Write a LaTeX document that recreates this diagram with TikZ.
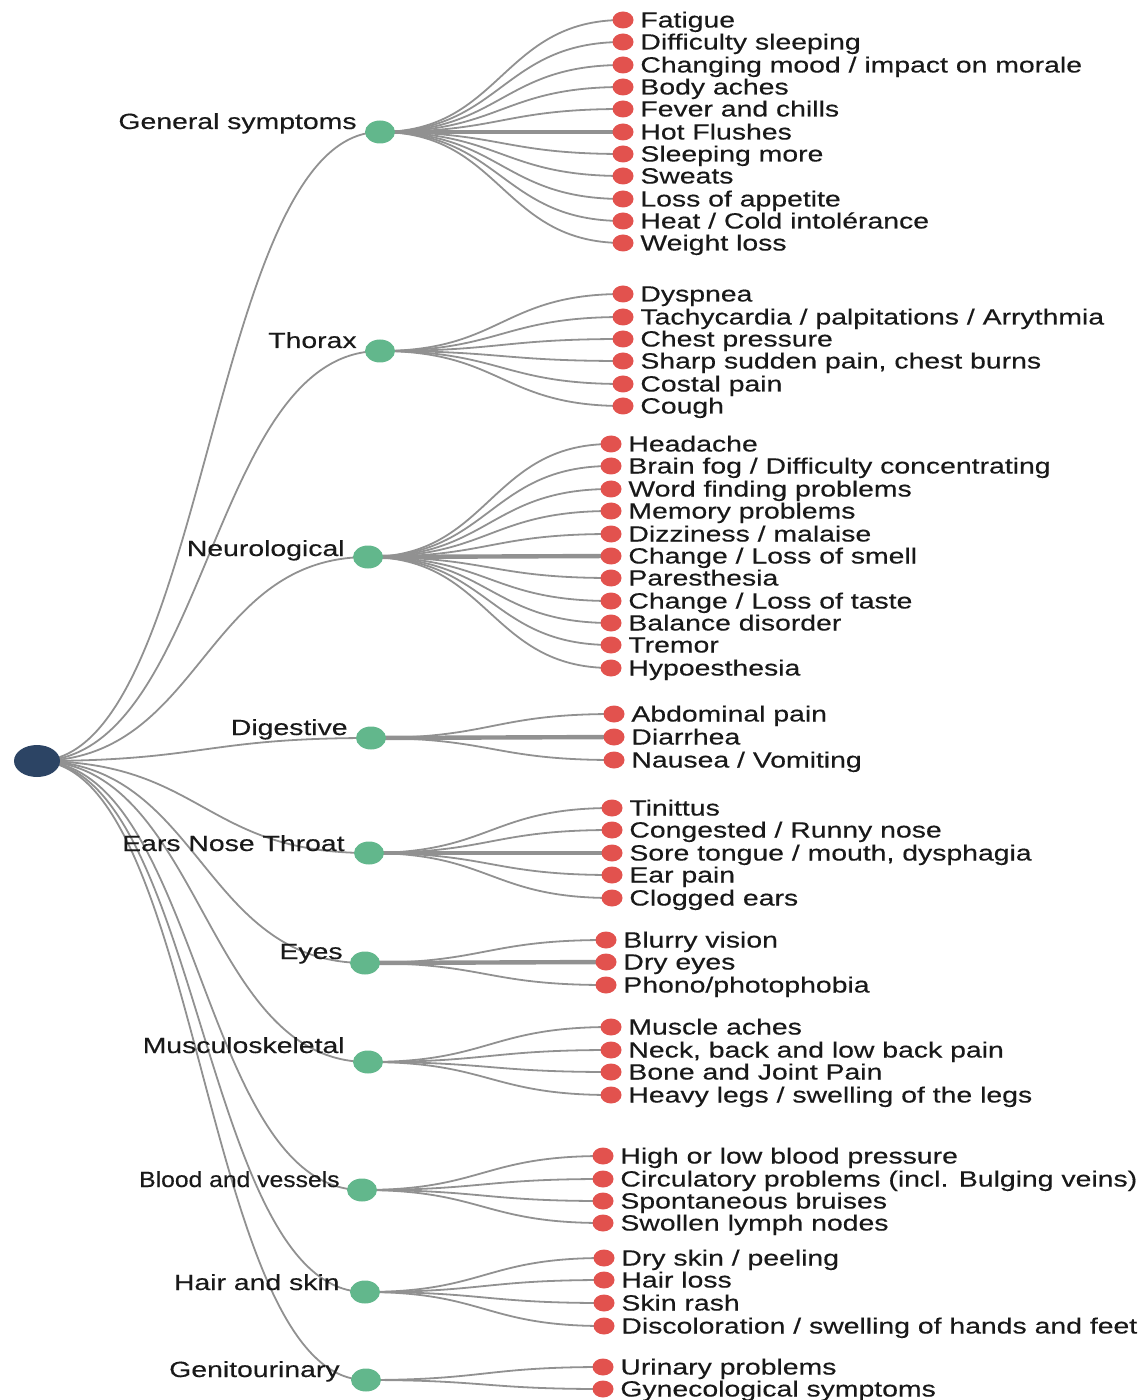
\documentclass[tikz,border=0pt]{standalone}
\usepackage{fontspec}
\usepackage{graphicx}
\setmainfont[FakeStretch=1.29,FakeBold=0.35]{Liberation Sans}
\usetikzlibrary{calc,backgrounds,shapes.geometric}
\definecolor{edgegray}{RGB}{145,145,145}
\definecolor{leafred}{RGB}{226,82,78}
\definecolor{catgreen}{RGB}{98,183,140}
\definecolor{rootnavy}{RGB}{44,68,100}
\definecolor{txt}{RGB}{25,25,25}
\tikzset{
  rootdot/.style={ellipse, fill=rootnavy, minimum width=23pt, minimum height=16pt, inner sep=0pt},
  catdot/.style={ellipse, fill=catgreen, minimum width=15pt, minimum height=11.5pt, inner sep=0pt},
  leafdot/.style={ellipse, fill=leafred, minimum width=10.5pt, minimum height=8.5pt, inner sep=0pt},
  leaftext/.style={anchor=base west, inner sep=0pt, text=txt, font=\fontsize{11}{13}\selectfont},
  cattext/.style={anchor=base east, inner sep=0pt, text=txt, font=\fontsize{11}{13}\selectfont},
  edge/.style={draw=edgegray, line width=0.9pt},
}
\newcommand\lnk[3]{%
  \begin{pgfonlayer}{background}
  \draw[edge, line width=#3] let \p1=(#1), \p2=(#2) in
    (\p1) .. controls ({0.5*\x1+0.5*\x2},\y1) and ({0.5*\x1+0.5*\x2},\y2) .. (\p2);
  \end{pgfonlayer}}
\newcommand\leaves[3]{% parent, dot x, list y/width/text
  \foreach \yy/\ww/\lbl [count=\i] in {#3} {
    \node[leafdot] (#1l\i) at (#2,\yy) {};
    \node[leaftext] (#1t\i) at ($(#1l\i.center)+(17,7.5)$) {\lbl};
    \lnk{#1}{#1l\i}{\ww}
  }}
\begin{document}
\begin{tikzpicture}[x=0.5pt,y=-0.5pt]
\useasboundingbox (0,0) rectangle (1142,1400);

\node[rootdot] (R) at (37,761) {};

\node[catdot] (G) at (380,132) {};
\node[catdot] (T) at (380,351) {};
\node[catdot] (N) at (368,557) {};
\node[catdot] (D) at (371,738) {};
\node[catdot] (E) at (369,853) {};
\node[catdot] (Y) at (365,963) {};
\node[catdot] (M) at (368,1062) {};
\node[catdot] (B) at (362,1190) {};
\node[catdot] (H) at (365,1292) {};
\node[catdot] (U) at (366,1380) {};

\node[cattext] (Gt) at (357,129) {General symptoms};
\node[cattext] (Tt) at (357,348) {Thorax};
\node[cattext] (Nt) at (345,556) {Neurological};
\node[cattext] (Dt) at (348,735) {Digestive};
\node[cattext] (Et) at (345,851) {Ears Nose Throat};
\node[cattext] (Yt) at (343,959) {Eyes};
\node[cattext] (Mt) at (345,1053) {Musculoskeletal};
\node[cattext] (Bt) at (340,1187) {\scalebox{0.87}[1]{Blood and vessels}};
\node[cattext] (Ht) at (340,1290) {Hair and skin};
\node[cattext] (Ut) at (340,1377) {Genitourinary};

\foreach \c in {G,T,N,D,E,Y,M,B,H,U} { \lnk{R}{\c}{0.9pt} }

\leaves{G}{623}{20/0.9pt/{Fatigue}, 42/0.9pt/{Difficulty sleeping}, 65/0.9pt/{Changing mood / impact on morale}, 87/0.9pt/{Body aches}, 109/0.9pt/{Fever and chills}, 132/2.2pt/{Hot Flushes}, 154/0.9pt/{Sleeping more}, 176/0.9pt/{Sweats}, 199/0.9pt/{Loss of appetite}, 221/0.9pt/{Heat / Cold intolérance}, 243/0.9pt/{Weight loss}}

\leaves{T}{623}{294/0.9pt/{Dyspnea}, 317/0.9pt/{Tachycardia / palpitations / Arrythmia}, 339/0.9pt/{Chest pressure}, 361/0.9pt/{Sharp sudden pain, chest burns}, 384/0.9pt/{Costal pain}, 406/0.9pt/{Cough}}

\leaves{N}{611}{444/0.9pt/{Headache}, 466/0.9pt/{Brain fog / Difficulty concentrating}, 489/0.9pt/{Word finding problems}, 511/0.9pt/{Memory problems}, 534/0.9pt/{Dizziness / malaise}, 556/2.2pt/{Change / Loss of smell}, 578/0.9pt/{Paresthesia}, 601/0.9pt/{Change / Loss of taste}, 623/0.9pt/{Balance disorder}, 645/0.9pt/{Tremor}, 668/0.9pt/{Hypoesthesia}}

\leaves{D}{614}{714/0.9pt/{Abdominal pain}, 737/2.2pt/{Diarrhea}, 760/0.9pt/{Nausea / Vomiting}}

\leaves{E}{612}{808/0.9pt/{Tinittus}, 830/0.9pt/{Congested / Runny nose}, 853/1.6pt/{Sore tongue / mouth, dysphagia}, 875/0.9pt/{Ear pain}, 898/0.9pt/{Clogged ears}}

\leaves{Y}{606}{940/0.9pt/{Blurry vision}, 962/2.2pt/{Dry eyes}, 985/0.9pt/{Phono/photophobia}}

\leaves{M}{611}{1027/0.9pt/{Muscle aches}, 1050/0.9pt/{Neck, back and low back pain}, 1072/0.9pt/{Bone and Joint Pain}, 1095/0.9pt/{Heavy legs / swelling of the legs}}

\leaves{B}{603}{1156/0.9pt/{High or low blood pressure}, 1179/0.9pt/{Circulatory problems (incl. Bulging veins)}, 1201/0.9pt/{Spontaneous bruises}, 1223/0.9pt/{Swollen lymph nodes}}

\leaves{H}{604}{1258/0.9pt/{Dry skin / peeling}, 1280/0.9pt/{Hair loss}, 1303/0.9pt/{Skin rash}, 1326/0.9pt/{Discoloration / swelling of hands and feet}}

\leaves{U}{603}{1367/0.9pt/{Urinary problems}, 1389/0.9pt/{Gynecological symptoms}}
\end{tikzpicture}
\end{document}
